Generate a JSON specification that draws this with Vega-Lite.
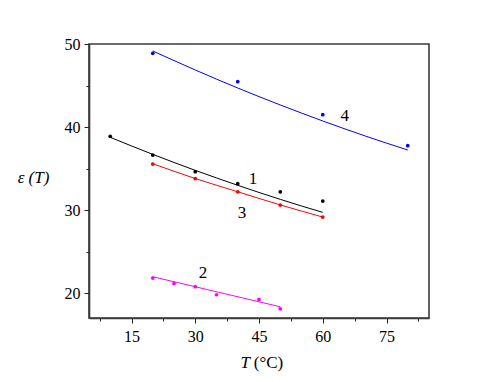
{
  "$schema": "https://vega.github.io/schema/vega-lite/v6.json",
  "autosize": {"type": "none"},
  "padding": {"left": 89, "top": 44, "right": 69, "bottom": 64},
  "width": 340,
  "height": 274,
  "background": "white",
  "config": {
    "view": {"stroke": "#3a3a3a", "strokeWidth": 1.6},
    "font": "Liberation Serif",
    "text": {"font": "Liberation Serif"},
    "axis": {"grid": false, "domainColor": "#3a3a3a", "domainWidth": 1.6, "tickColor": "#222", "labelFont": "Liberation Serif", "titleFont": "Liberation Serif", "labelFontSize": 16, "titleFontSize": 17, "labelColor": "#000", "titleColor": "#000", "titleFontWeight": "normal"}
  },
  "datasets": {
    "pts": [
      {"series": "1", "T": 10, "eps": 38.88},
      {"series": "1", "T": 20, "eps": 36.63},
      {"series": "1", "T": 30, "eps": 34.62},
      {"series": "1", "T": 40, "eps": 33.17},
      {"series": "1", "T": 50, "eps": 32.2},
      {"series": "1", "T": 60, "eps": 31.08},
      {"series": "2", "T": 20, "eps": 21.81},
      {"series": "2", "T": 25, "eps": 21.17},
      {"series": "2", "T": 30, "eps": 20.77},
      {"series": "2", "T": 35, "eps": 19.8},
      {"series": "2", "T": 45, "eps": 19.24},
      {"series": "2", "T": 50, "eps": 18.11},
      {"series": "3", "T": 20, "eps": 35.54},
      {"series": "3", "T": 30, "eps": 33.78},
      {"series": "3", "T": 40, "eps": 32.2},
      {"series": "3", "T": 50, "eps": 30.6},
      {"series": "3", "T": 60, "eps": 29.16},
      {"series": "4", "T": 20, "eps": 48.88},
      {"series": "4", "T": 40, "eps": 45.46},
      {"series": "4", "T": 60, "eps": 41.48},
      {"series": "4", "T": 80, "eps": 37.75}
    ],
    "fit": [
      {"series": "1", "T": 10, "eps": 38.76},
      {"series": "1", "T": 15, "eps": 37.72},
      {"series": "1", "T": 20, "eps": 36.71},
      {"series": "1", "T": 25, "eps": 35.73},
      {"series": "1", "T": 30, "eps": 34.78},
      {"series": "1", "T": 35, "eps": 33.87},
      {"series": "1", "T": 40, "eps": 32.98},
      {"series": "1", "T": 45, "eps": 32.12},
      {"series": "1", "T": 50, "eps": 31.29},
      {"series": "1", "T": 55, "eps": 30.49},
      {"series": "1", "T": 60, "eps": 29.72},
      {"series": "2", "T": 20, "eps": 21.97},
      {"series": "2", "T": 50, "eps": 18.35},
      {"series": "3", "T": 20, "eps": 35.58},
      {"series": "3", "T": 30, "eps": 33.8},
      {"series": "3", "T": 40, "eps": 32.2},
      {"series": "3", "T": 50, "eps": 30.62},
      {"series": "3", "T": 60, "eps": 29.16},
      {"series": "4", "T": 20, "eps": 49.16},
      {"series": "4", "T": 30, "eps": 46.87},
      {"series": "4", "T": 40, "eps": 44.70},
      {"series": "4", "T": 50, "eps": 42.66},
      {"series": "4", "T": 60, "eps": 40.73},
      {"series": "4", "T": 70, "eps": 38.92},
      {"series": "4", "T": 80, "eps": 37.23}
    ],
    "labels": [
      {"series": "1", "T": 43.6, "eps": 33.77, "label": "1"},
      {"series": "2", "T": 31.8, "eps": 22.37, "label": "2"},
      {"series": "3", "T": 41.0, "eps": 29.67, "label": "3"},
      {"series": "4", "T": 65.2, "eps": 41.36, "label": "4"}
    ]
  },
  "resolve": {"axis": {"x": "independent"}},
  "layer": [
    {
      "data": {"name": "fit"},
      "mark": {"type": "line", "strokeWidth": 1, "interpolate": "monotone"},
      "encoding": {
        "x": {"field": "T", "type": "quantitative", "scale": {"domain": [5, 85], "nice": false, "zero": false},
          "axis": {"orient": "bottom", "domain": false, "ticks": false, "labels": false, "title": "(°C)", "titleX": 179, "titleY": 49, "titleAlign": "center", "titleBaseline": "alphabetic"}},
        "y": {"field": "eps", "type": "quantitative", "scale": {"domain": [17, 50], "nice": false, "zero": false},
          "axis": {"orient": "left", "values": [20, 25, 30, 35, 40, 45, 50], "labelExpr": "datum.value % 10 === 0 ? datum.label : ''", "tickSize": {"condition": {"test": "datum.value % 10 === 0", "value": 5}, "value": 3}, "labelPadding": 4, "title": "ε (T)", "titleFontStyle": "italic", "titleAngle": 0, "titleX": -56, "titleY": 133, "titleAlign": "center", "titleBaseline": "middle"}},
        "color": {"field": "series", "type": "nominal", "scale": {"domain": ["1", "2", "3", "4"], "range": ["#000000", "#ff00ff", "#ff0000", "#0000ff"]}, "legend": null}
      }
    },
    {
      "data": {"name": "pts"},
      "mark": {"type": "point", "filled": true, "size": 14, "opacity": 1},
      "encoding": {
        "x": {"field": "T", "type": "quantitative",
          "axis": {"orient": "bottom", "values": [7.5, 15, 22.5, 30, 37.5, 45, 52.5, 60, 67.5, 75, 82.5], "labelExpr": "datum.value % 15 === 0 ? datum.label : ''", "tickSize": {"condition": {"test": "datum.value % 15 === 0", "value": 5}, "value": 3}, "labelPadding": 5, "title": "T", "titleFontStyle": "italic", "titleX": 155.7, "titleY": 49, "titleAlign": "center", "titleBaseline": "alphabetic"}},
        "y": {"field": "eps", "type": "quantitative"},
        "color": {"field": "series", "type": "nominal", "legend": null}
      }
    },
    {
      "data": {"name": "labels"},
      "mark": {"type": "text", "fontSize": 17, "color": "#000", "baseline": "middle", "align": "center"},
      "encoding": {
        "x": {"field": "T", "type": "quantitative", "axis": null},
        "y": {"field": "eps", "type": "quantitative"},
        "text": {"field": "label"}
      }
    }
  ]
}
